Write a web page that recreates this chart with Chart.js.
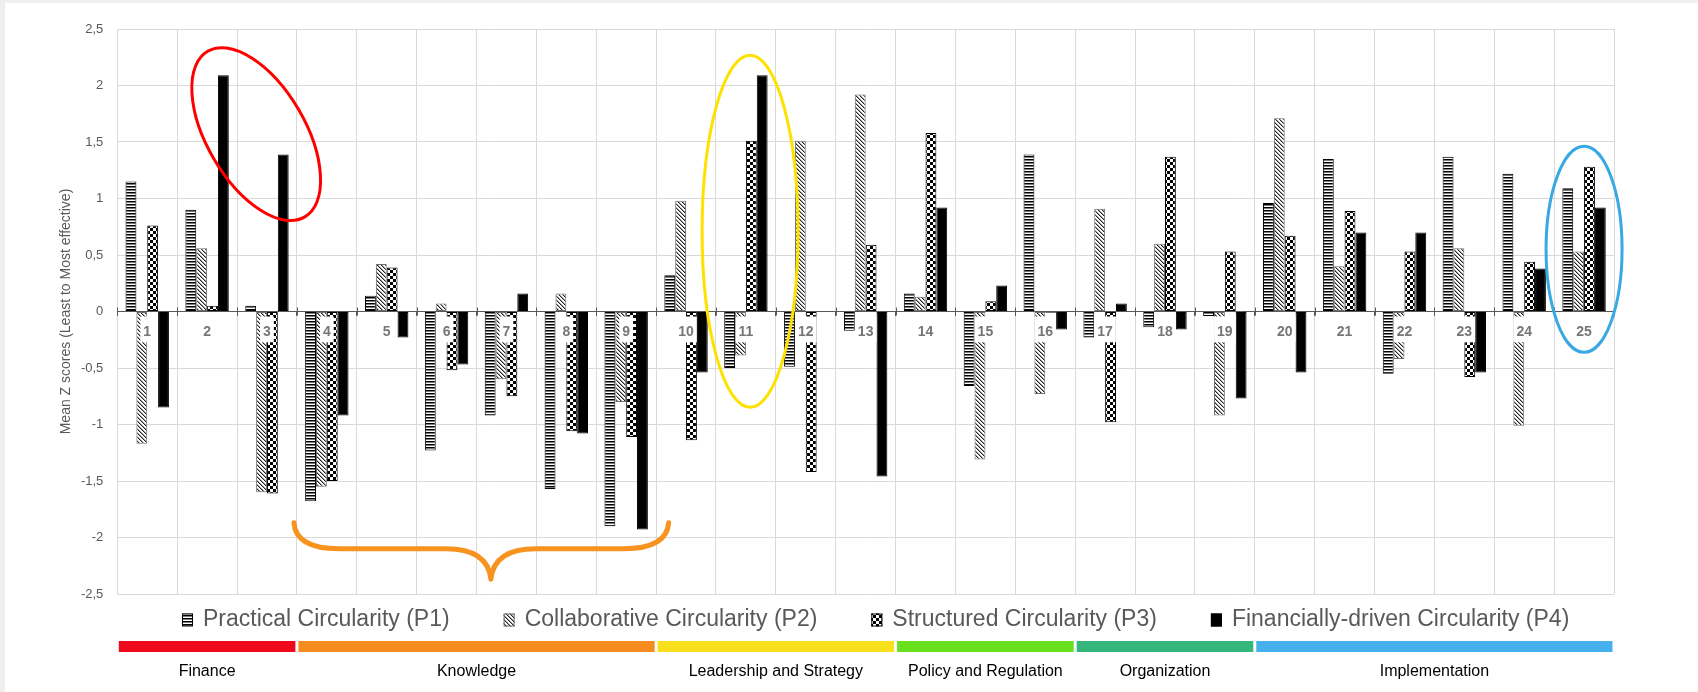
<!DOCTYPE html>
<html>
<head>
<meta charset="utf-8">
<title>Mean Z scores per barrier</title>
<script src="https://cdn.jsdelivr.net/npm/chart.js@4.4.0/dist/chart.umd.min.js"></script>
<style>
    html, body { margin: 0; padding: 0; background: #ffffff; }
    #wrap { width: 1698px; height: 692px; }
</style>
</head>
<body>
<div id="wrap"><canvas id="chart" width="1698" height="692"></canvas></div>
<script>
// 데이터
const categories = ['1', '2', '3', '4', '5', '6', '7', '8', '9', '10', '11', '12', '13',
    '14', '15', '16', '17', '18', '19', '20', '21', '22', '23', '24', '25'];

const seriesNames = ['Practical Circularity (P1)', 'Collaborative Circularity (P2)',
    'Structured Circularity (P3)', 'Financially-driven Circularity (P4)'];

const p1Values = [1.15, 0.90, 0.05, -1.68, 0.14, -1.23, -0.92, -1.57, -1.90, 0.32, -0.50, -0.49, -0.17,
    0.16, -0.66, 1.39, -0.23, -0.14, -0.04, 0.96, 1.35, -0.55, 1.37, 1.22, 1.09];
const p2Values = [-1.17, 0.56, -1.60, -1.55, 0.42, 0.07, -0.60, 0.16, -0.80, 0.98, -0.39, 1.51, 1.92,
    0.13, -1.31, -0.73, 0.91, 0.60, -0.92, 1.71, 0.40, -0.42, 0.56, -1.01, 0.53];
const p3Values = [0.76, 0.05, -1.61, -1.50, 0.39, -0.52, -0.75, -1.06, -1.11, -1.14, 1.51, -1.42, 0.59,
    1.58, 0.09, -0.01, -0.98, 1.37, 0.53, 0.67, 0.89, 0.53, -0.58, 0.44, 1.28];
const p4Values = [-0.85, 2.09, 1.39, -0.92, -0.23, -0.47, 0.16, -1.08, -1.93, -0.54, 2.09, 0.00, -1.46,
    0.92, 0.23, -0.16, 0.07, -0.16, -0.77, -0.54, 0.70, 0.70, -0.54, 0.38, 0.92];

const yTickValues = [-2.5, -2, -1.5, -1, -0.5, 0, 0.5, 1, 1.5, 2, 2.5];
const yTickLabels = ['-2,5', '-2', '-1,5', '-1', '-0,5', '0', '0,5', '1', '1,5', '2', '2,5'];

const groupNames = ['Finance', 'Knowledge', 'Leadership and Strategy', 'Policy and Regulation', 'Organization', 'Implementation'];
const groupFirst = ['1', '4', '10', '14', '17', '20'];
const groupLast = ['3', '9', '13', '16', '19', '25'];
const groupColors = ['#ee0a1c', '#f68b1f', '#f8e11c', '#68e01e', '#35b77c', '#46b0ec'];

// 강조 표시 (손으로 그린 타원과 괄호)
const rings = [
    { color: '#ff0000', at: 1.82, value: 1.57, rx: 96, ry: 49, angle: 59.6 },
    { color: '#ffe100', at: 10.07, value: 0.71, rx: 48, ry: 176, angle: 0 },
    { color: '#3aa8e2', at: 24.0, value: 0.55, rx: 38, ry: 103, angle: 0 }
];
const brace = { color: '#f7931e', from: 2.45, to: 8.71, tip: 5.74, top: -1.87, mid: -2.10, point: -2.37 };

const FONT = '"Liberation Sans", Arial, sans-serif';
Chart.defaults.font.family = FONT;

const canvas = document.getElementById('chart');
const mainCtx = canvas.getContext('2d');

/**
 * 작은 캔버스로 채우기 패턴 만들기
 */
function makePattern(size, paint) {
    const c = document.createElement('canvas');
    c.width = size;
    c.height = size;
    const g = c.getContext('2d');
    g.fillStyle = '#ffffff';
    g.fillRect(0, 0, size, size);
    paint(g, size);
    return mainCtx.createPattern(c, 'repeat');
}

const stripes = makePattern(3, g => {
    g.fillStyle = '#000000';
    g.fillRect(0, 0, 3, 1);
    g.fillStyle = '#7a7a7a';
    g.fillRect(0, 1, 3, 1);
});
const hatch = makePattern(4, (g, n) => {
    for (let i = 0; i < n; i++) {
        g.fillStyle = '#222222';
        g.fillRect(i, i, 1, 1);
        g.fillStyle = '#a0a0a0';
        g.fillRect((i + 1) % n, i, 1, 1);
    }
});
const checker = makePattern(6, g => {
    g.fillStyle = '#000000';
    g.fillRect(0, 0, 3, 3);
    g.fillRect(3, 3, 3, 3);
});

const fills = [stripes, hatch, checker, '#000000'];
const borders = ['#000000', '#6e6e6e', '#000000', '#000000'];
const seriesValues = [p1Values, p2Values, p3Values, p4Values];

/**
 * 배경, 범례, 그룹 띠, 강조 도형
 */
const decorPlugin = {
    id: 'decor',
    beforeDraw(chart) {
        const ctx = chart.ctx;
        ctx.save();
        ctx.fillStyle = '#ffffff';
        ctx.fillRect(0, 0, chart.width, chart.height);
        ctx.fillStyle = '#efefef';
        ctx.fillRect(0, 0, chart.width, 3);
        ctx.fillRect(0, 0, 5, chart.height);
        ctx.restore();
    },
    afterDraw(chart) {
        const ctx = chart.ctx;
        const area = chart.chartArea;
        const xs = chart.scales.x;
        const ys = chart.scales.y;
        const step = xs.getPixelForValue(1) - xs.getPixelForValue(0);
        const zero = ys.getPixelForValue(0);

        // 축 눈금 (0 선을 가로지름)
        ctx.save();
        ctx.strokeStyle = '#595959';
        ctx.lineWidth = 1;
        ctx.beginPath();
        for (let i = 0; i <= categories.length; i++) {
            const tx = Math.round(xs.getPixelForValue(i) - step / 2) + 0.5;
            ctx.moveTo(tx, zero - 4);
            ctx.lineTo(tx, zero + 4);
        }
        ctx.stroke();

        // 범례
        ctx.font = '23px ' + FONT;
        ctx.textBaseline = 'middle';
        const boxW = 11, boxH = 13, boxGap = 10, itemGap = 54;
        const widths = chart.data.datasets.map(ds => ctx.measureText(ds.label).width);
        const total = widths.reduce((s, w) => s + boxW + boxGap + w, 0) + itemGap * (widths.length - 1);
        let lx = (area.left + area.right) / 2 + 10 - total / 2;
        const ly = area.bottom + 26;
        chart.data.datasets.forEach((ds, i) => {
            ctx.fillStyle = ds.backgroundColor;
            ctx.fillRect(lx, ly - boxH / 2, boxW, boxH);
            ctx.strokeStyle = ds.borderColor;
            ctx.lineWidth = 1;
            ctx.strokeRect(lx + 0.5, ly - boxH / 2 + 0.5, boxW - 1, boxH - 1);
            ctx.fillStyle = '#595959';
            ctx.fillText(ds.label, lx + boxW + boxGap, ly);
            lx += boxW + boxGap + widths[i] + itemGap;
        });

        // 그룹 띠와 이름
        ctx.font = '16px ' + FONT;
        ctx.textAlign = 'center';
        groupNames.forEach((name, i) => {
            const a = xs.getPixelForValue(categories.indexOf(groupFirst[i])) - step / 2 + 1.5;
            const b = xs.getPixelForValue(categories.indexOf(groupLast[i])) + step / 2 - 1.5;
            ctx.fillStyle = groupColors[i];
            ctx.fillRect(a, area.bottom + 47, b - a, 11);
            ctx.fillStyle = '#000000';
            ctx.fillText(name, (a + b) / 2, area.bottom + 78);
        });

        // 타원
        ctx.lineWidth = 3;
        rings.forEach(r => {
            ctx.strokeStyle = r.color;
            ctx.beginPath();
            ctx.ellipse(xs.getPixelForValue(r.at), ys.getPixelForValue(r.value), r.rx, r.ry,
                r.angle * Math.PI / 180, 0, Math.PI * 2);
            ctx.stroke();
        });

        // 중괄호
        const xl = xs.getPixelForValue(brace.from);
        const xr = xs.getPixelForValue(brace.to);
        const xt = xs.getPixelForValue(brace.tip);
        const yTop = ys.getPixelForValue(brace.top);
        const yMid = ys.getPixelForValue(brace.mid);
        const yPt = ys.getPixelForValue(brace.point);
        const r = 45;
        ctx.strokeStyle = brace.color;
        ctx.lineWidth = 5;
        ctx.lineCap = 'round';
        ctx.lineJoin = 'round';
        ctx.beginPath();
        ctx.moveTo(xl, yTop);
        ctx.quadraticCurveTo(xl + 2, yMid, xl + r, yMid);
        ctx.lineTo(xt - r, yMid);
        ctx.quadraticCurveTo(xt - 3, yMid, xt, yPt);
        ctx.quadraticCurveTo(xt + 3, yMid, xt + r, yMid);
        ctx.lineTo(xr - r, yMid);
        ctx.quadraticCurveTo(xr - 2, yMid, xr, yTop);
        ctx.stroke();
        ctx.restore();
    }
};

new Chart(canvas, {
    type: 'bar',
    data: {
        labels: categories,
        datasets: seriesNames.map((name, i) => ({
            label: name,
            data: seriesValues[i],
            backgroundColor: fills[i],
            borderColor: borders[i],
            borderWidth: 1,
            borderSkipped: false,
            categoryPercentage: 0.725,
            barPercentage: 1
        }))
    },
    options: {
        responsive: false,
        animation: false,
        devicePixelRatio: 1,
        layout: { padding: { top: 29, right: 84, bottom: 98, left: 58 } },
        plugins: {
            legend: { display: false },
            tooltip: { enabled: false }
        },
        scales: {
            x: {
                position: { y: 0 },
                offset: true,
                grid: {
                    color: '#d9d9d9',
                    offset: true,
                    drawTicks: true,
                    tickLength: 4,
                    tickColor: '#595959'
                },
                border: { display: true, color: '#595959', width: 1, z: 1 },
                ticks: {
                    z: 2,
                    color: '#767676',
                    font: { size: 14, weight: 'bold' },
                    padding: 8,
                    maxRotation: 0,
                    autoSkip: false,
                    showLabelBackdrop: true,
                    backdropColor: '#ffffff',
                    backdropPadding: { top: 7, bottom: 2, left: 3, right: 3 }
                }
            },
            y: {
                min: -2.5,
                max: 2.5,
                afterFit(scale) { scale.width = 59.3; },
                afterBuildTicks(scale) { scale.ticks = yTickValues.map(v => ({ value: v })); },
                grid: { color: '#d9d9d9', drawTicks: false },
                border: { display: false },
                ticks: {
                    color: '#595959',
                    font: { size: 13 },
                    padding: 14,
                    callback: value => yTickLabels[yTickValues.indexOf(value)]
                },
                title: {
                    display: true,
                    text: 'Mean Z scores (Least to Most effective)',
                    color: '#595959',
                    font: { size: 14 },
                    padding: { top: 0, bottom: 0 }
                }
            }
        }
    },
    plugins: [decorPlugin]
});
</script>
</body>
</html>
